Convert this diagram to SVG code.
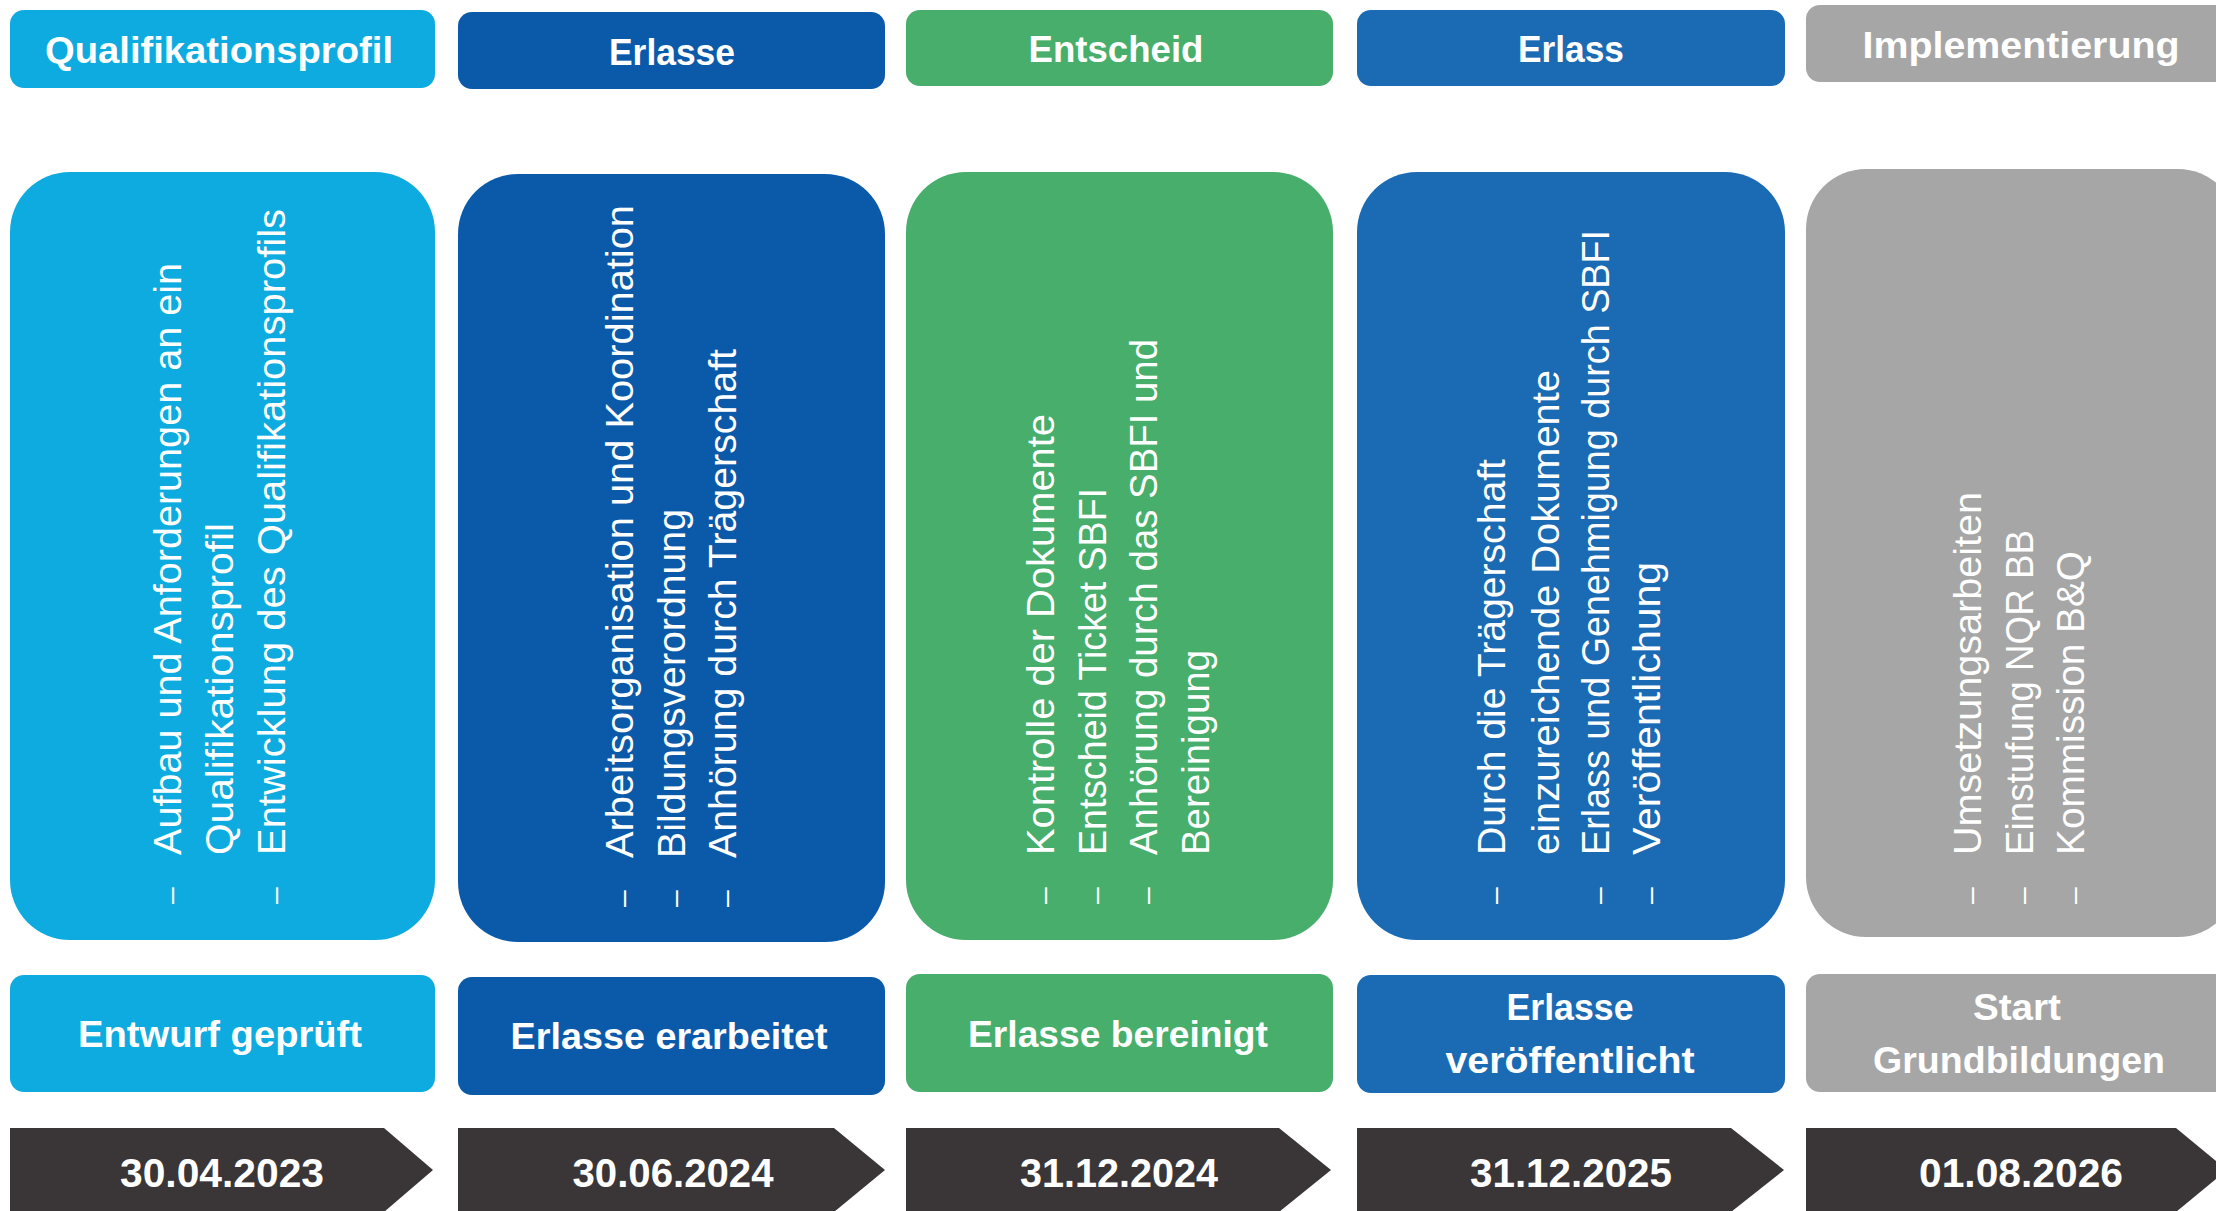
<svg xmlns="http://www.w3.org/2000/svg" width="2216" height="1211" viewBox="0 0 2216 1211">
<style>
.t{font-family:"Liberation Sans",Arial,sans-serif;fill:#fff}
.b{font-weight:bold;font-size:37px;text-anchor:middle}
.d{font-weight:bold;font-size:41px;text-anchor:middle}
.v{font-size:38px}
.bu{font-size:30px}
.c1{fill:#0EABE0}.c2{fill:#0B5AAA}.c3{fill:#47AE6B}.c4{fill:#1B6AB4}.c5{fill:#A6A6A6}.ch{fill:#3A3637}
</style>
<rect width="2216" height="1211" fill="#fff"/>

<!-- Column 1 -->
<g id="hdr1"><rect class="c1" x="10" y="10" width="425" height="78" rx="14"/><text class="t b" x="219" y="63" textLength="348" lengthAdjust="spacingAndGlyphs">Qualifikationsprofil</text></g>
<g id="body1"><rect class="c1" x="10" y="172" width="425" height="768" rx="60"/>
<text class="t bu" transform="translate(181,904) rotate(-90)">–</text>
<text class="t v" transform="translate(181,855) rotate(-90)" textLength="592" lengthAdjust="spacingAndGlyphs">Aufbau und Anforderungen an ein</text>
<text class="t v" transform="translate(233,855) rotate(-90)" textLength="332" lengthAdjust="spacingAndGlyphs">Qualifikationsprofil</text>
<text class="t bu" transform="translate(285,904) rotate(-90)">–</text>
<text class="t v" transform="translate(285,855) rotate(-90)" textLength="646" lengthAdjust="spacingAndGlyphs">Entwicklung des Qualifikationsprofils</text>
</g>
<g id="ms1"><rect class="c1" x="10" y="975" width="425" height="117" rx="14"/><text class="t b" x="220" y="1047" textLength="284" lengthAdjust="spacingAndGlyphs">Entwurf geprüft</text></g>
<g id="date1"><polygon class="ch" points="10,1128 384,1128 433,1170 384,1212 10,1212"/><text class="t d" x="222" y="1187" textLength="204" lengthAdjust="spacingAndGlyphs">30.04.2023</text></g>

<!-- Column 2 -->
<g id="hdr2"><rect class="c2" x="458" y="12" width="427" height="77" rx="14"/><text class="t b" x="672" y="65" textLength="126" lengthAdjust="spacingAndGlyphs">Erlasse</text></g>
<g id="body2"><rect class="c2" x="458" y="174" width="427" height="768" rx="60"/>
<text class="t bu" transform="translate(633,907) rotate(-90)">–</text>
<text class="t v" transform="translate(633,858) rotate(-90)" textLength="653" lengthAdjust="spacingAndGlyphs">Arbeitsorganisation und Koordination</text>
<text class="t bu" transform="translate(685,907) rotate(-90)">–</text>
<text class="t v" transform="translate(685,858) rotate(-90)" textLength="349" lengthAdjust="spacingAndGlyphs">Bildungsverordnung</text>
<text class="t bu" transform="translate(736,907) rotate(-90)">–</text>
<text class="t v" transform="translate(736,858) rotate(-90)" textLength="509" lengthAdjust="spacingAndGlyphs">Anhörung durch Trägerschaft</text>
</g>
<g id="ms2"><rect class="c2" x="458" y="977" width="427" height="118" rx="14"/><text class="t b" x="669" y="1049" textLength="317" lengthAdjust="spacingAndGlyphs">Erlasse erarbeitet</text></g>
<g id="date2"><polygon class="ch" points="458,1128 834,1128 885,1170 834,1212 458,1212"/><text class="t d" x="673" y="1187" textLength="201" lengthAdjust="spacingAndGlyphs">30.06.2024</text></g>

<!-- Column 3 -->
<g id="hdr3"><rect class="c3" x="906" y="10" width="427" height="76" rx="14"/><text class="t b" x="1116" y="62" textLength="175" lengthAdjust="spacingAndGlyphs">Entscheid</text></g>
<g id="body3"><rect class="c3" x="906" y="172" width="427" height="768" rx="60"/>
<text class="t bu" transform="translate(1054,904) rotate(-90)">–</text>
<text class="t v" transform="translate(1054,855) rotate(-90)" textLength="441" lengthAdjust="spacingAndGlyphs">Kontrolle der Dokumente</text>
<text class="t bu" transform="translate(1106,904) rotate(-90)">–</text>
<text class="t v" transform="translate(1106,855) rotate(-90)" textLength="367" lengthAdjust="spacingAndGlyphs">Entscheid Ticket SBFI</text>
<text class="t bu" transform="translate(1157,904) rotate(-90)">–</text>
<text class="t v" transform="translate(1157,855) rotate(-90)" textLength="516" lengthAdjust="spacingAndGlyphs">Anhörung durch das SBFI und</text>
<text class="t v" transform="translate(1209,855) rotate(-90)" textLength="205" lengthAdjust="spacingAndGlyphs">Bereinigung</text>
</g>
<g id="ms3"><rect class="c3" x="906" y="974" width="427" height="118" rx="14"/><text class="t b" x="1118" y="1047" textLength="300" lengthAdjust="spacingAndGlyphs">Erlasse bereinigt</text></g>
<g id="date3"><polygon class="ch" points="906,1128 1279,1128 1331,1170 1279,1212 906,1212"/><text class="t d" x="1119" y="1187" textLength="198" lengthAdjust="spacingAndGlyphs">31.12.2024</text></g>

<!-- Column 4 -->
<g id="hdr4"><rect class="c4" x="1357" y="10" width="428" height="76" rx="14"/><text class="t b" x="1571" y="62" textLength="106" lengthAdjust="spacingAndGlyphs">Erlass</text></g>
<g id="body4"><rect class="c4" x="1357" y="172" width="428" height="768" rx="60"/>
<text class="t bu" transform="translate(1505,904) rotate(-90)">–</text>
<text class="t v" transform="translate(1505,855) rotate(-90)" textLength="396" lengthAdjust="spacingAndGlyphs">Durch die Trägerschaft</text>
<text class="t v" transform="translate(1559,855) rotate(-90)" textLength="485" lengthAdjust="spacingAndGlyphs">einzureichende Dokumente</text>
<text class="t bu" transform="translate(1609,904) rotate(-90)">–</text>
<text class="t v" transform="translate(1609,855) rotate(-90)" textLength="625" lengthAdjust="spacingAndGlyphs">Erlass und Genehmigung durch SBFI</text>
<text class="t bu" transform="translate(1660,904) rotate(-90)">–</text>
<text class="t v" transform="translate(1660,855) rotate(-90)" textLength="293" lengthAdjust="spacingAndGlyphs">Veröffentlichung</text>
</g>
<g id="ms4"><rect class="c4" x="1357" y="975" width="428" height="118" rx="14"/><text class="t b" x="1570" y="1020" textLength="127" lengthAdjust="spacingAndGlyphs">Erlasse</text><text class="t b" x="1570" y="1073" textLength="249" lengthAdjust="spacingAndGlyphs">veröffentlicht</text></g>
<g id="date4"><polygon class="ch" points="1357,1128 1731,1128 1784,1170 1731,1212 1357,1212"/><text class="t d" x="1571" y="1187" textLength="202" lengthAdjust="spacingAndGlyphs">31.12.2025</text></g>

<!-- Column 5 -->
<g id="hdr5"><rect class="c5" x="1806" y="5" width="432" height="77" rx="14"/><text class="t b" x="2021" y="58" textLength="317" lengthAdjust="spacingAndGlyphs">Implementierung</text></g>
<g id="body5"><rect class="c5" x="1806" y="169" width="432" height="768" rx="60"/>
<text class="t bu" transform="translate(1981,904) rotate(-90)">–</text>
<text class="t v" transform="translate(1981,855) rotate(-90)" textLength="363" lengthAdjust="spacingAndGlyphs">Umsetzungsarbeiten</text>
<text class="t bu" transform="translate(2033,904) rotate(-90)">–</text>
<text class="t v" transform="translate(2033,855) rotate(-90)" textLength="325" lengthAdjust="spacingAndGlyphs">Einstufung NQR BB</text>
<text class="t bu" transform="translate(2084,904) rotate(-90)">–</text>
<text class="t v" transform="translate(2084,855) rotate(-90)" textLength="304" lengthAdjust="spacingAndGlyphs">Kommission B&amp;Q</text>
</g>
<g id="ms5"><rect class="c5" x="1806" y="974" width="432" height="118" rx="14"/><text class="t b" x="2017" y="1020" textLength="88" lengthAdjust="spacingAndGlyphs">Start</text><text class="t b" x="2019" y="1073" textLength="292" lengthAdjust="spacingAndGlyphs">Grundbildungen</text></g>
<g id="date5"><polygon class="ch" points="1806,1128 2176,1128 2227,1170 2176,1212 1806,1212"/><text class="t d" x="2021" y="1187" textLength="204" lengthAdjust="spacingAndGlyphs">01.08.2026</text></g>
</svg>
